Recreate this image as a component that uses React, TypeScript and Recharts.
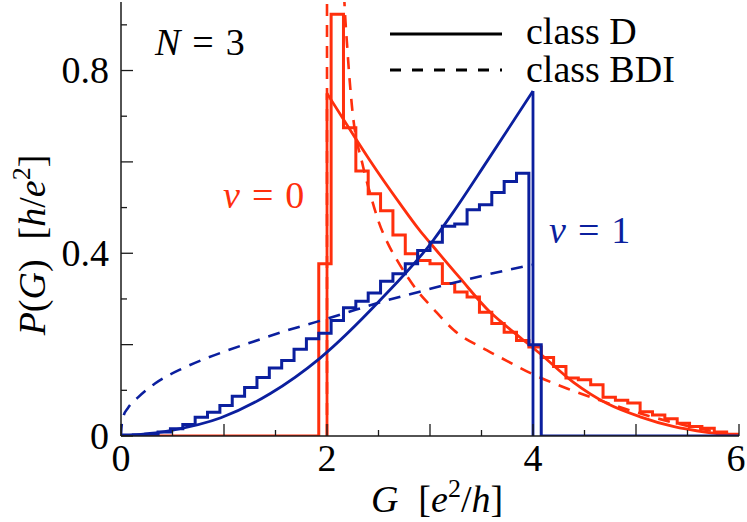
import { ComposedChart, Line, XAxis, YAxis } from "recharts";

const RED = "#ff2f0d";
const BLUE = "#0b1f9e";
const INK = "#1a1a1a";
const FONT = "'Liberation Serif', 'Times New Roman', serif";
const FS = 38;

// histogram bin edges (width 0.12)
const binEdges = [
  0, 0.12, 0.24, 0.36, 0.48, 0.6, 0.72, 0.84, 0.96, 1.08, 1.2, 1.32, 1.44, 1.56, 1.68, 1.8,
  1.92, 2.04, 2.16, 2.28, 2.4, 2.52, 2.64, 2.76, 2.88, 3.0, 3.12, 3.24, 3.36, 3.48, 3.6, 3.72,
  3.84, 3.96, 4.08, 4.2, 4.32, 4.44, 4.56, 4.68, 4.8, 4.92, 5.04, 5.16, 5.28, 5.4, 5.52, 5.64,
  5.76, 5.88, 6.0,
];

// nu = 1 histogram, one value per bin (rest are zero)
const blueHist = [
  0.002, 0.003, 0.004, 0.009, 0.016, 0.025, 0.041, 0.052, 0.067, 0.087, 0.106, 0.128, 0.149,
  0.165, 0.19, 0.213, 0.225, 0.253, 0.281, 0.295, 0.313, 0.339, 0.355, 0.377, 0.406, 0.424,
  0.459, 0.464, 0.495, 0.506, 0.533, 0.557, 0.575, 0.2,
];

// nu = 0 histogram, one value per bin
const redHist = [
  0, 0, 0, 0, 0, 0, 0, 0, 0, 0, 0, 0, 0, 0, 0, 0,
  0.377, 0.923, 0.675, 0.58, 0.53, 0.493, 0.44, 0.399, 0.384, 0.377, 0.334, 0.315, 0.304,
  0.271, 0.246, 0.227, 0.209, 0.195, 0.172, 0.152, 0.127, 0.123, 0.112, 0.085, 0.078, 0.072,
  0.053, 0.046, 0.038, 0.028, 0.021, 0.017, 0.009, 0.004,
];

// class D curves
const redD = [
  [2.0, 0.75], [2.27, 0.654], [2.417, 0.603], [2.71, 0.508], [2.9, 0.45], [3.0, 0.423],
  [3.29, 0.346], [3.58, 0.272], [3.68, 0.252], [4.07, 0.18], [4.39, 0.118], [4.72, 0.071],
  [5.04, 0.042], [5.36, 0.021], [5.69, 0.008], [6.0, 0],
];
const blueD = [
  [0, 0], [0.48, 0.012], [0.97, 0.04], [1.45, 0.093], [1.93, 0.17], [2.515, 0.297],
  [3.03, 0.428], [3.226, 0.49], [3.55, 0.6], [4.0, 0.755],
];
const redDEdge = [[2.0, 0], [2.0, 0.75]];
const blueDEdge = [[4.0, 0], [4.0, 0.755]];

// class BDI curves
const redBDI = [
  [2.005, 8], [2.1, 1.6], [2.16, 1.0], [2.2, 0.84], [2.24, 0.727], [2.35, 0.59], [2.42, 0.53],
  [2.5, 0.47], [2.61, 0.413], [2.68, 0.385], [2.87, 0.32], [3.03, 0.279], [3.23, 0.232],
  [3.55, 0.188], [3.75, 0.164], [4.0, 0.135], [4.33, 0.104], [4.65, 0.078], [5.0, 0.052],
  [5.5, 0.022], [6.0, 0],
];
const redBDIEdge = [[2.0, 0], [2.0, 0.95]];
const blueBDI = [
  [0, 0], [0.005, 0.02], [0.022, 0.042], [0.07, 0.062], [0.168, 0.085], [0.33, 0.115],
  [0.589, 0.147], [0.783, 0.166], [0.98, 0.183], [1.29, 0.207], [1.61, 0.231], [1.93, 0.252],
  [2.16, 0.268], [2.55, 0.295], [2.9, 0.316], [3.19, 0.333], [3.55, 0.353], [4.0, 0.375],
];

const xTicks = [0, 0.5, 1, 1.5, 2, 2.5, 3, 3.5, 4, 4.5, 5, 5.5, 6];
const xLabels = [0, 2, 4, 6];
const yTicks = [0, 0.1, 0.2, 0.3, 0.4, 0.5, 0.6, 0.7, 0.8, 0.9];
const yLabels = [0, 0.4, 0.8];

const toPts = (rows: number[][]) => rows.map(([g, p]) => ({ g, p }));
const steps = (hist: number[]) =>
  binEdges.map((g, i) => ({ g, p: i < hist.length ? hist[i] : 0 }));

const isMajorX = (v: number) => Math.abs(v - Math.round(v)) < 1e-6;
const isMajorY = (v: number) => Math.abs(v * 5 - Math.round(v * 5)) < 1e-6;
const frame = { stroke: INK, strokeWidth: 1.5 };
const txt = { fill: "#000", fontFamily: FONT, fontSize: FS, style: { fontFamily: FONT, fontSize: FS } };

const BottomTick = ({ x, y, payload }: any) => {
  const v = payload.value;
  return (
    <g>
      <line x1={x} y1={y} x2={x} y2={y - (isMajorX(v) ? 12 : 6)} stroke={INK} strokeWidth={1.3} />
      {xLabels.includes(v) && (
        <text x={v === 6 ? x - 3 : x} y={y + 35} textAnchor="middle" {...txt}>{v}</text>
      )}
    </g>
  );
};
const TopTick = ({ x, y, payload }: any) => (
  <line x1={x} y1={y} x2={x} y2={y + (isMajorX(payload.value) ? 12 : 6)} stroke={INK} strokeWidth={1.3} />
);
const LeftTick = ({ x, y, payload }: any) => {
  const v = payload.value;
  return (
    <g>
      <line x1={x} y1={y} x2={x + (isMajorY(v) ? 12 : 6)} y2={y} stroke={INK} strokeWidth={1.3} />
      {yLabels.includes(v) && (
        <text x={x - 12} y={y} dy="0.34em" textAnchor="end" {...txt}>{v}</text>
      )}
    </g>
  );
};
const RightTick = ({ x, y, payload }: any) => (
  <line x1={x} y1={y} x2={x - (isMajorY(payload.value) ? 12 : 6)} y2={y} stroke={INK} strokeWidth={1.3} />
);

const DASH = "12 9";

export default function App() {
  return (
    <div style={{ position: "absolute", left: 0, top: 0, width: 747, height: 522, background: "#fff" }}>
      <ComposedChart width={747} height={522} margin={{ top: 2, right: 8, bottom: 0, left: 0 }}>
        <XAxis dataKey="g" type="number" domain={[0, 6]} ticks={xTicks} interval={0} allowDataOverflow
          height={86} tickSize={0} tickMargin={0} tickLine={false} axisLine={frame}
          tick={(p: any) => <BottomTick {...p} />} />
        <XAxis xAxisId="top" orientation="top" dataKey="g" type="number" domain={[0, 6]} ticks={xTicks}
          interval={0} allowDataOverflow height={0} tickSize={0} tickMargin={0} tickLine={false}
          axisLine={frame} tick={(p: any) => <TopTick {...p} />} />
        <YAxis type="number" domain={[0, 0.95]} ticks={yTicks} interval={0} allowDataOverflow width={121}
          tickSize={0} tickMargin={0} tickLine={false} axisLine={frame}
          tick={(p: any) => <LeftTick {...p} />} />
        <YAxis yAxisId="right" orientation="right" type="number" domain={[0, 0.95]} ticks={yTicks}
          interval={0} allowDataOverflow width={0} tickSize={0} tickMargin={0} tickLine={false}
          axisLine={frame} tick={(p: any) => <RightTick {...p} />} />

        <Line data={toPts(redBDIEdge)} dataKey="p" type="linear" stroke={RED} strokeWidth={2.6}
          strokeDasharray={DASH} dot={false} activeDot={false} isAnimationActive={false} />
        <Line data={toPts(redBDI)} dataKey="p" type="monotone" stroke={RED} strokeWidth={2.6}
          strokeDasharray={DASH} dot={false} activeDot={false} isAnimationActive={false} />
        <Line data={toPts(redDEdge)} dataKey="p" type="linear" stroke={RED} strokeWidth={2.8}
          dot={false} activeDot={false} isAnimationActive={false} />
        <Line data={toPts(redD)} dataKey="p" type="monotone" stroke={RED} strokeWidth={2.8}
          dot={false} activeDot={false} isAnimationActive={false} />
        <Line data={steps(redHist)} dataKey="p" type="stepAfter" stroke={RED} strokeWidth={3}
          dot={false} activeDot={false} isAnimationActive={false} />

        <Line data={toPts(blueBDI)} dataKey="p" type="monotone" stroke={BLUE} strokeWidth={2.6}
          strokeDasharray={DASH} dot={false} activeDot={false} isAnimationActive={false} />
        <Line data={toPts(blueD)} dataKey="p" type="monotone" stroke={BLUE} strokeWidth={2.8}
          dot={false} activeDot={false} isAnimationActive={false} />
        <Line data={toPts(blueDEdge)} dataKey="p" type="linear" stroke={BLUE} strokeWidth={2.8}
          dot={false} activeDot={false} isAnimationActive={false} />
        <Line data={steps(blueHist)} dataKey="p" type="stepAfter" stroke={BLUE} strokeWidth={3}
          dot={false} activeDot={false} isAnimationActive={false} />

        {/* annotations */}
        <text x={155} y={55} {...txt}>
          <tspan fontStyle="italic">N</tspan><tspan dx={12}>=</tspan><tspan dx={12}>3</tspan>
        </text>
        <line x1={390} y1={34} x2={502} y2={34} stroke="#000" strokeWidth={3} />
        <text x={526} y={44} {...txt}>class D</text>
        <line x1={390} y1={70} x2={502} y2={70} stroke="#000" strokeWidth={3} strokeDasharray="11 11" />
        <text x={526} y={82} {...txt}>class BDI</text>
        <text x={223} y={208} {...txt} fill={RED}>
          <tspan fontStyle="italic">ν</tspan><tspan dx={12}>=</tspan><tspan dx={12}>0</tspan>
        </text>
        <text x={549} y={243} {...txt} fill={BLUE}>
          <tspan fontStyle="italic">ν</tspan><tspan dx={12}>=</tspan><tspan dx={12}>1</tspan>
        </text>

        {/* axis titles */}
        <text x={437} y={512} textAnchor="middle" {...txt}>
          <tspan fontStyle="italic">G</tspan><tspan dx={20}>[</tspan><tspan fontStyle="italic">e</tspan>
          <tspan dy={-15} fontSize={26}>2</tspan><tspan dy={15}>/</tspan>
          <tspan fontStyle="italic">h</tspan>]
        </text>
        <text x={45} y={245} textAnchor="middle" transform="rotate(-90 45 245)" {...txt}>
          <tspan fontStyle="italic">P</tspan>(<tspan fontStyle="italic">G</tspan>)<tspan dx={20}>[</tspan>
          <tspan fontStyle="italic">h</tspan>/<tspan fontStyle="italic">e</tspan>
          <tspan dy={-15} fontSize={26}>2</tspan><tspan dy={15}>]</tspan>
        </text>
      </ComposedChart>
    </div>
  );
}
